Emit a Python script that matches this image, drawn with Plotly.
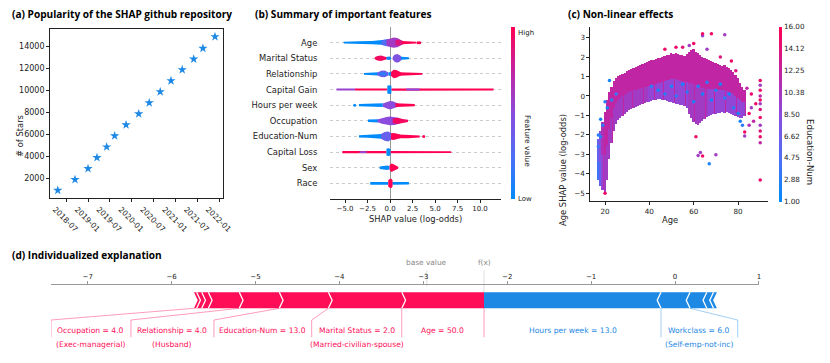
import plotly.graph_objects as go
from plotly.colors import sample_colorscale

W, H = 830, 363
OFF = 8


def px(x):
    return (x - OFF) / W


def py(y):
    return 1 - (y - OFF) / H


# shap red/blue colormap (approximation)
RED_BLUE = [[0.0, '#008bfb'], [0.25, '#4f6ef5'], [0.5, '#8b4bdd'],
            [0.75, '#c4239f'], [1.0, '#ff0052']]
RED = '#ff0d57'
BLUE = '#1e88e5'

# ---------------- (a) github stars ----------------
star_dates = ['2018-04-23', '2018-09-14', '2019-01-01', '2019-03-17', '2019-06-06',
              '2019-08-12', '2019-11-15', '2020-02-29', '2020-05-27', '2020-08-27',
              '2020-11-25', '2021-02-27', '2021-06-03', '2021-08-19', '2021-11-28']
star_counts = [940, 1910, 2910, 3910, 4880, 5880, 6880, 7880, 8880, 9880,
               10880, 11880, 12850, 13820, 14880]
date_ticks = ['2018-07', '2019-01', '2019-07', '2020-01', '2020-07', '2021-01', '2021-07', '2022-01']

# ---------------- (b) beeswarm summary ----------------
features = ['Age', 'Marital Status', 'Relationship', 'Capital Gain', 'Hours per week',
            'Occupation', 'Education-Num', 'Capital Loss', 'Sex', 'Race']
# each piece: (feature value 0..1, shap x positions, half thickness in rows)
age_swarm = [(0.0, [-5.15, -4.6, -3.4, -2.0, -1.0, -0.6], [0.06, 0.08, 0.09, 0.11, 0.14, 0.18]),
             (0.25, [-1.0, -0.6, -0.2, 0.1], [0.1, 0.2, 0.24, 0.2]),
             (0.6, [-0.4, 0.0, 0.4, 0.8, 1.2, 1.5], [0.18, 0.28, 0.33, 0.3, 0.18, 0.08]),
             (0.85, [0.6, 1.0, 1.4], [0.15, 0.2, 0.1]),
             (1.0, [1.3, 2.0, 2.6, 2.9], [0.1, 0.09, 0.07, 0.06])]
marital_swarm = [(0.95, [-1.7, -1.4, -1.0, -0.6, -0.35], [0.07, 0.15, 0.18, 0.12, 0.07]),
                 (0.05, [-0.4, -0.1, 0.1], [0.08, 0.11, 0.08]),
                 (0.45, [0.3, 0.5, 0.8, 1.1, 1.3], [0.08, 0.22, 0.28, 0.2, 0.08]),
                 (0.0, [1.2, 1.6, 2.1], [0.09, 0.08, 0.06])]
relationship_swarm = [(0.0, [-2.9, -2.2, -1.6, -1.3], [0.06, 0.08, 0.09, 0.1]),
                      (0.4, [-1.4, -1.0, -0.6, -0.2], [0.08, 0.2, 0.22, 0.1]),
                      (0.15, [-1.2, -0.8, -0.4], [0.08, 0.12, 0.08]),
                      (0.05, [-0.2, 0.0, 0.15], [0.08, 0.14, 0.08]),
                      (1.0, [0.1, 0.4, 0.7, 1.0, 1.2], [0.12, 0.27, 0.25, 0.15, 0.1]),
                      (1.0, [1.0, 2.0, 3.0, 3.6], [0.11, 0.1, 0.08, 0.06])]
capgain_swarm = [(0.55, [-5.95, -5.0, -3.9], [0.06, 0.07, 0.06]),
                 (1.0, [-3.9, -2.0, -0.3], [0.06, 0.06, 0.06]),
                 (1.0, [0.15, 3.0, 6.0, 9.0, 11.5], [0.07, 0.07, 0.07, 0.07, 0.06]),
                 (0.5, [1.8, 2.4, 3.3], [0.06, 0.06, 0.06]),
                 (0.0, [-0.3, -0.1, 0.15], [0.25, 0.28, 0.25])]
hours_swarm = [(0.0, [-3.45, -2.5, -1.5, -0.8], [0.07, 0.08, 0.1, 0.12]),
               (0.5, [-0.8, -0.4, 0.0, 0.3, 0.6, 0.9], [0.1, 0.2, 0.27, 0.25, 0.15, 0.1]),
               (1.0, [0.6, 1.2, 2.0, 2.75], [0.12, 0.11, 0.09, 0.07])]
occupation_swarm = [(0.0, [-2.45, -1.9, -1.3], [0.08, 0.09, 0.1]),
                    (0.5, [-1.4, -0.9, -0.4, 0.0, 0.5, 0.9, 1.3], [0.08, 0.18, 0.25, 0.28, 0.26, 0.2, 0.1]),
                    (0.95, [0.3, 0.8, 1.4, 2.0], [0.15, 0.2, 0.12, 0.07])]
education_swarm = [(0.0, [-3.45, -2.5, -1.5, -0.9], [0.07, 0.09, 0.11, 0.15]),
                   (0.35, [-1.0, -0.6, -0.2, 0.15], [0.15, 0.28, 0.32, 0.2]),
                   (1.0, [0.1, 0.4, 0.8, 1.1], [0.2, 0.22, 0.18, 0.12]),
                   (1.0, [1.0, 2.0, 2.8, 3.3], [0.12, 0.11, 0.09, 0.06])]
caploss_swarm = [(1.0, [-5.3, -3.0, -0.4], [0.07, 0.07, 0.07]),
                 (0.5, [-3.4, -3.0, -2.6], [0.06, 0.06, 0.06]),
                 (1.0, [0.05, 3.0, 6.8], [0.07, 0.07, 0.06]),
                 (0.0, [-0.4, -0.2, 0.05], [0.22, 0.25, 0.22])]
sex_swarm = [(0.0, [-1.15, -0.7, -0.3, -0.05], [0.08, 0.1, 0.14, 0.1]),
             (1.0, [-0.05, 0.15, 0.4, 0.7, 0.9], [0.15, 0.27, 0.22, 0.12, 0.07])]
race_swarm = [(0.0, [-2.2, -1.2, -0.2], [0.09, 0.09, 0.09]),
              (0.0, [0.25, 1.2, 2.1], [0.09, 0.09, 0.08]),
              (1.0, [-0.2, 0.0, 0.15, 0.28], [0.2, 0.3, 0.3, 0.2])]
swarms = [age_swarm, marital_swarm, relationship_swarm, capgain_swarm, hours_swarm,
          occupation_swarm, education_swarm, caploss_swarm, sex_swarm, race_swarm]
# loose points (shap x, row from the top, feature value)
swarm_dot_x = [3.1, 3.3, -3.93, 3.75]
swarm_dot_row = [0, 0, 4, 6]
swarm_dot_c = [1.0, 1.0, 0.0, 1.0]

# ---------------- (c) dependence plot ----------------
dep_age = [17, 18, 19, 20, 21, 22, 23, 24, 25, 26, 27, 28, 29, 30, 31, 32, 33, 34, 35, 36,
           37, 38, 39, 40, 41, 42, 43, 44, 45, 46, 47, 48, 49, 50, 51, 52, 53, 54, 55, 56,
           57, 58, 59, 60, 61, 62, 63, 64, 65, 66, 67, 68, 69, 70, 71, 72, 73, 74, 75, 76,
           77, 78, 79, 80, 81, 82, 83]
dep_hi = [-2.2, -1.8, -1.3, -0.8, -0.2, 0.2, 0.5, 0.8, 0.95, 1.05, 1.1, 1.15, 1.2, 1.3, 1.35,
          1.4, 1.45, 1.5, 1.55, 1.6, 1.65, 1.7, 1.75, 1.8, 1.85, 1.85, 1.9, 1.95, 1.95, 2.0,
          2.05, 2.1, 2.1, 2.2, 2.15, 2.25, 2.15, 2.1, 2.1, 2.05, 2.15, 2.3, 2.4, 2.45, 2.3,
          2.2, 2.1, 2.0, 1.95, 1.9, 1.85, 1.8, 1.75, 1.7, 1.65, 1.6, 1.55, 1.6, 1.5, 1.45,
          1.35, 1.25, 1.1, 0.95, 0.7, 0.5, 0.3]
dep_lo = [-4.3, -4.6, -4.8, -4.9, -4.3, -3.2, -2.4, -1.8, -1.4, -1.2, -1.1, -1.0, -0.9, -0.8,
          -0.7, -0.65, -0.6, -0.55, -0.5, -0.45, -0.4, -0.35, -0.3, -0.3, -0.25, -0.2, -0.2,
          -0.15, -0.15, -0.2, -0.2, -0.25, -0.3, -0.3, -0.35, -0.4, -0.4, -0.45, -0.45, -0.5,
          -0.6, -0.9, -1.1, -1.3, -1.4, -1.45, -1.35, -1.25, -1.15, -1.05, -1.0, -0.95, -0.9,
          -0.9, -0.85, -0.85, -0.8, -0.85, -0.8, -0.85, -0.9, -0.95, -1.0, -1.05, -1.1, -1.1, -1.0]
dep_mid = [-3.4, -3.3, -3.0, -3.0, -2.5, -1.7, -1.1, -0.6, -0.35, -0.2, -0.1, 0.0, 0.05, 0.15,
           0.2, 0.25, 0.3, 0.3, 0.35, 0.4, 0.45, 0.5, 0.5, 0.55, 0.6, 0.6, 0.65, 0.7, 0.7, 0.75,
           0.8, 0.85, 0.85, 0.9, 0.9, 0.9, 0.85, 0.8, 0.8, 0.75, 0.75, 0.7, 0.7, 0.65, 0.6, 0.5,
           0.5, 0.45, 0.45, 0.4, 0.4, 0.4, 0.35, 0.35, 0.3, 0.3, 0.3, 0.3, 0.25, 0.2, 0.15, 0.1,
           0.0, -0.1, -0.2, -0.3, -0.3]
dep_edu_top = [6, 8, 11, 12, 12, 12, 12, 12, 12, 12, 12, 12, 12, 12, 12, 12, 12, 12, 12, 12,
               12, 12, 12, 12, 12, 12, 12, 12, 12, 12, 12, 12, 12, 12, 12, 12, 12, 12, 12, 12,
               12, 12, 12, 12, 12, 12, 12, 12, 12, 12, 12, 12, 12, 12, 12, 12, 12, 12, 12, 12,
               12, 12, 12, 12, 12, 12, 12]
dep_edu_low = [4, 6, 9, 10, 10, 10, 10, 10, 10, 10, 10, 10, 10, 10, 10, 10, 10, 10, 10, 10,
               10, 10, 10, 9, 9, 9, 9, 9, 9, 9, 9, 9, 9, 9, 9, 9, 9, 9, 9, 9,
               9, 10, 10, 10, 10, 10, 10, 10, 10, 10, 9, 9, 9, 9, 9, 9, 9, 9, 9, 9,
               9, 9, 9, 9, 9, 9, 9]
speck_age = [17, 18, 19, 17, 18, 20, 21, 22, 23, 25,
             41, 44, 47, 50, 52, 55, 57, 60, 62, 64, 66, 68, 70, 72, 74, 76, 78, 80, 81, 82, 67,
             20, 61, 62, 63, 64, 70, 64, 64, 68, 74, 90, 83, 83, 85, 86, 84, 87, 88, 85, 86,
             90, 90, 90, 90, 90, 90, 90, 90, 90, 90, 90, 90,
             47, 55, 60, 66, 72, 77, 79, 52, 58]
speck_shap = [-2.0, -1.2, -1.5, -2.6, -2.1, -0.3, -0.6, 0.8, -0.2, 0.1,
              0.5, 0.3, 0.1, 0.5, 0.0, 0.6, 0.2, -0.3, 0.5, 0.1, 0.7, -0.2, 0.3, 0.6, -0.1, 0.1,
              -0.6, -0.9, -1.3, -1.5, -3.48,
              -5.0, -2.1, -3.06, -2.9, -3.08, -3.02, 3.1, 3.2, 3.2, 3.15, -4.31, -2.05, -1.85,
              -0.9, 0.1, 0.4, -1.3, -0.4, -1.5, -0.6,
              0.8, 0.55, 0.3, 0.0, -0.2, -0.4, -0.7, -1.1, -1.5, -1.8, -2.1, -2.4,
              2.4, 2.5, 2.7, 2.4, 2.0, 1.8, 1.3, 2.5, 2.6]
speck_edu = [3, 2, 3, 4, 3, 3, 2, 2, 3, 4,
             3, 2, 3, 2, 3, 2, 3, 2, 3, 2, 3, 2, 3, 2, 3, 2, 3, 2, 2, 3, 2,
             15, 15, 10, 10, 15, 10, 9, 15, 15, 10, 15, 10, 15, 15, 15, 12, 12, 15, 11, 10,
             15, 10, 15, 12, 15, 10, 14, 15, 10, 14, 15, 12,
             15, 14, 15, 10, 14, 15, 14, 15, 10]
edu_ticks = [1.0, 2.875, 4.75, 6.625, 8.5, 10.375, 12.25, 14.125, 16.0]
edu_tick_text = ['1.00', '2.88', '4.75', '6.62', '8.50', '10.38', '12.25', '14.12', '16.00']

# ---------------- (d) force plot ----------------
f_x = -2.276
# pushing higher, from f(x) outwards to the left
red_vals = [0.98, 0.875, 0.585, 0.477, 0.369, 0.079, 0.06, 0.032]
# pushing lower, from f(x) outwards to the right
blue_vals = [2.109, 0.346, 0.2, 0.08, 0.04]
force_labels = ['Occupation = 4.0', 'Relationship = 4.0', 'Education-Num = 13.0',
                'Marital Status = 2.0', 'Age = 50.0', 'Hours per week = 13.0', 'Workclass = 6.0']
force_notes = ['(Exec-managerial)', '(Husband)', '', '(Married-civilian-spouse)', '', '',
               '(Self-emp-not-inc)']
label_edges = [-7.437, -6.484, -5.495, -4.330, -3.257, -2.276, -0.167, 0.747]

fig = go.Figure()

# (a)
fig.add_trace(go.Scatter(x=star_dates, y=star_counts, mode='markers',
                         marker=dict(symbol='star', size=7, color=BLUE, line_width=0),
                         xaxis='x', yaxis='y', hoverinfo='x+y'))

# (b)
n = len(features)
for i, pieces in enumerate(swarms):
    row = n - 1 - i
    for c, xs, hs in pieces:
        xx = list(xs) + list(xs[::-1]) + [xs[0]]
        yy = [row + h for h in hs] + [row - h for h in hs[::-1]] + [row + hs[0]]
        fig.add_trace(go.Scatter(x=xx, y=yy, fill='toself', mode='lines', line=dict(width=0),
                                 fillcolor=sample_colorscale(RED_BLUE, [c])[0],
                                 hoverinfo='skip', xaxis='x2', yaxis='y2'))
fig.add_trace(go.Scatter(x=swarm_dot_x, y=[n - 1 - r for r in swarm_dot_row], mode='markers',
                         marker=dict(size=3, color=swarm_dot_c, coloraxis='coloraxis'),
                         xaxis='x2', yaxis='y2', hoverinfo='skip'))

# (c)
fig.add_trace(go.Bar(x=dep_age, y=[h - l for h, l in zip(dep_hi, dep_lo)], base=dep_lo,
                     width=1.0, marker=dict(color=dep_edu_top, coloraxis='coloraxis2', line_width=0),
                     xaxis='x3', yaxis='y3', hoverinfo='skip'))
fig.add_trace(go.Bar(x=dep_age, y=[m - l for m, l in zip(dep_mid, dep_lo)], base=dep_lo,
                     width=0.5, marker=dict(color=dep_edu_low, coloraxis='coloraxis2', line_width=0),
                     xaxis='x3', yaxis='y3', hoverinfo='skip'))
fig.add_trace(go.Scatter(x=speck_age, y=speck_shap, mode='markers',
                         marker=dict(size=3.5, color=speck_edu, coloraxis='coloraxis2'),
                         xaxis='x3', yaxis='y3', hoverinfo='skip'))

# (d) force bars, y in pixels below the axis line
top, bot, mid = -8, -24, -16
d = 0.045
left_end = f_x - sum(red_vals)
right_end = f_x + sum(blue_vals)
fig.add_trace(go.Scatter(x=[left_end, f_x, f_x, left_end, left_end + d, left_end],
                         y=[top, top, bot, bot, mid, top], fill='toself', mode='lines',
                         line=dict(width=0), fillcolor=RED, xaxis='x4', yaxis='y4', hoverinfo='skip'))
fig.add_trace(go.Scatter(x=[f_x, right_end, right_end - d, right_end, f_x, f_x],
                         y=[top, top, mid, bot, bot, top], fill='toself', mode='lines',
                         line=dict(width=0), fillcolor=BLUE, xaxis='x4', yaxis='y4', hoverinfo='skip'))
red_bounds, acc = [], f_x
for v in red_vals:
    acc -= v
    red_bounds.append(acc)
blue_bounds, acc = [], f_x
for v in blue_vals:
    acc += v
    blue_bounds.append(acc)
cx, cy = [], []
for b in red_bounds[:-1]:
    cx += [b, b + d, b, None]
    cy += [top, mid, bot, None]
for b in blue_bounds[:-1]:
    cx += [b, b - d, b, None]
    cy += [top, mid, bot, None]
fig.add_trace(go.Scatter(x=cx, y=cy, mode='lines', line=dict(color='white', width=1.3),
                         xaxis='x4', yaxis='y4', hoverinfo='skip'))

# connector lines from label boxes to the bar
targets = [left_end, red_bounds[3], red_bounds[2], red_bounds[1], red_bounds[0], f_x,
           blue_bounds[0], blue_bounds[1]]
for k, (e, t) in enumerate(zip(label_edges, targets)):
    col = 'rgba(255,13,87,0.45)' if k <= 5 else 'rgba(30,136,229,0.45)'
    if abs(e - t) < 0.01:
        xs, ys = [e, e], [-53, -24]
    else:
        xs, ys = [e, e, t], [-53, -35.7, -24]
    fig.add_trace(go.Scatter(x=xs, y=ys, mode='lines', line=dict(color=col, width=0.9),
                             xaxis='x4', yaxis='y4', hoverinfo='skip'))

annotations = []
for k, (lab, note) in enumerate(zip(force_labels, force_notes)):
    col = RED if k <= 4 else BLUE
    cxk = (label_edges[k] + label_edges[k + 1]) / 2
    annotations.append(dict(x=cxk, y=-45.7, xref='x4', yref='y4', text=lab, showarrow=False,
                            font=dict(size=7.6, color=col)))
    if note:
        annotations.append(dict(x=cxk, y=-60, xref='x4', yref='y4', text=note, showarrow=False,
                                font=dict(size=7.6, color=col)))
base_value = f_x - sum(red_vals) + sum(blue_vals)
annotations.append(dict(x=base_value, y=21.6, xref='x4', yref='y4', text='base value',
                        showarrow=False, font=dict(size=7.4, color='#888')))
annotations.append(dict(x=f_x, y=21.6, xref='x4', yref='y4', text='f(x)',
                        showarrow=False, font=dict(size=7.4, color='#888')))

shapes = [dict(type='line', xref='x4', yref='y4', x0=base_value, x1=base_value, y0=14, y1=-2,
               line=dict(color='#ddd', width=1), layer='below'),
          dict(type='line', xref='x4', yref='y4', x0=f_x, x1=f_x, y0=14, y1=-8,
               line=dict(color='#ddd', width=1), layer='below')]

TITLE_FONT = dict(family='Open Sans', size=10.1, color='black')
for txt, x, y in [('(a) Popularity of the SHAP github repository', 10, 14),
                  ('(b) Summary of important features', 253, 14),
                  ('(c) Non-linear effects', 566, 14),
                  ('(d) Individualized explanation', 10, 255)]:
    annotations.append(dict(x=px(x), y=py(y), xref='paper', yref='paper', text='<b>' + txt + '</b>',
                            showarrow=False, xanchor='left', yanchor='middle', font=TITLE_FONT))

LBL = dict(size=8.4, color='#222')
annotations += [
    dict(x=px(13), y=py(113), xref='paper', yref='paper', text='# of Stars', textangle=-90,
         showarrow=False, font=LBL),
    dict(x=px(415), y=py(219), xref='paper', yref='paper', text='SHAP value (log-odds)',
         showarrow=False, font=LBL),
    dict(x=px(680), y=py(220), xref='paper', yref='paper', text='Age', showarrow=False, font=LBL),
    dict(x=px(570), y=py(112), xref='paper', yref='paper', text='Age SHAP value (log-odds)',
         textangle=-90, showarrow=False, font=LBL),
    dict(x=px(817), y=py(117), xref='paper', yref='paper', text='Education-Num', textangle=90,
         showarrow=False, font=dict(size=8.6, color='#222')),
    dict(x=px(527), y=py(113), xref='paper', yref='paper', text='Feature value', textangle=90,
         showarrow=False, font=dict(size=7.6, color='#222')),
    dict(x=px(515.7), y=py(27), xref='paper', yref='paper', text='High', xanchor='left',
         showarrow=False, font=dict(size=7, color='#222')),
    dict(x=px(515.7), y=py(199), xref='paper', yref='paper', text='Low', xanchor='left',
         showarrow=False, font=dict(size=7, color='#222')),
]

AX = dict(showgrid=False, zeroline=False, showline=True, linecolor='#222', linewidth=0.8,
          ticks='outside', ticklen=3, tickwidth=0.8, tickcolor='#222', automargin=False)

fig.update_layout(
    width=W, height=H, margin=dict(l=0, r=0, t=0, b=0, autoexpand=False),
    paper_bgcolor='white', plot_bgcolor='white', showlegend=False,
    font=dict(family='DejaVu Sans', size=8, color='#222'),
    barmode='overlay', bargap=0,
    xaxis=dict(AX, domain=[px(50), px(223)], type='date', range=['2018-02-17', '2022-02-03'],
               tickvals=[t + '-01' for t in date_ticks], ticktext=date_ticks, tickangle=45,
               ticklabelshift=-11, mirror=True, anchor='y', tickfont=dict(size=7.6)),
    yaxis=dict(AX, domain=[py(198), py(29)], range=[243, 15577],
               tickvals=[2000, 4000, 6000, 8000, 10000, 12000, 14000], tickformat='d',
               mirror=True, anchor='x', tickfont=dict(size=8)),
    xaxis2=dict(AX, domain=[px(330), px(500.7)], range=[-6.67, 12.3],
                tickvals=[-5, -2.5, 0, 2.5, 5, 7.5, 10], tickformat='.1f',
                zeroline=True, zerolinecolor='#999', zerolinewidth=1, anchor='y2',
                tickfont=dict(size=7)),
    yaxis2=dict(domain=[py(199), py(27)], range=[-1, 10], tickvals=list(range(n)),
                ticktext=features[::-1], showgrid=True, griddash='dot', gridcolor='#ccc',
                gridwidth=0.8, showline=False, zeroline=False, ticks='outside', ticklen=10,
                tickcolor='rgba(0,0,0,0)', anchor='x2', tickfont=dict(size=8.4), automargin=False),
    xaxis3=dict(AX, domain=[px(590.3), px(768.3)], range=[13.35, 93.65], tickvals=[20, 40, 60, 80],
                anchor='y3', tickfont=dict(size=7.2)),
    yaxis3=dict(AX, domain=[py(201.3), py(26.7)], range=[-5.41, 3.56], dtick=1, anchor='x3',
                tickfont=dict(size=7.2)),
    xaxis4=dict(domain=[px(51), px(759)], range=[-7.437, 1.001], side='top', anchor='free',
                position=py(284.3), showline=True, linecolor='#999', linewidth=1,
                ticks='outside', ticklen=3, tickcolor='#999', tickvals=[-7, -6, -5, -4, -3, -2, -1, 0, 1],
                showgrid=False, zeroline=False, tickfont=dict(size=7, color='#222'), automargin=False),
    yaxis4=dict(domain=[py(355), py(258)], range=[-70.7, 26.3], visible=False, anchor='x4',
                automargin=False),
    coloraxis=dict(colorscale=RED_BLUE, cmin=0, cmax=1,
                   colorbar=dict(x=px(510.7), xanchor='left', y=py(27), yanchor='top',
                                 len=172, lenmode='pixels', thickness=3.5, outlinewidth=0,
                                 showticklabels=False, ticks='', xpad=0, ypad=0)),
    coloraxis2=dict(colorscale=RED_BLUE, cmin=1, cmax=16,
                    colorbar=dict(x=px(779.3), xanchor='left', y=py(26.7), yanchor='top',
                                  len=175, lenmode='pixels', thickness=3, outlinewidth=0,
                                  tickvals=edu_ticks, ticktext=edu_tick_text, ticks='',
                                  tickfont=dict(size=7.2), xpad=0, ypad=0)),
    annotations=annotations, shapes=shapes,
)

fig.write_html('out.html')
